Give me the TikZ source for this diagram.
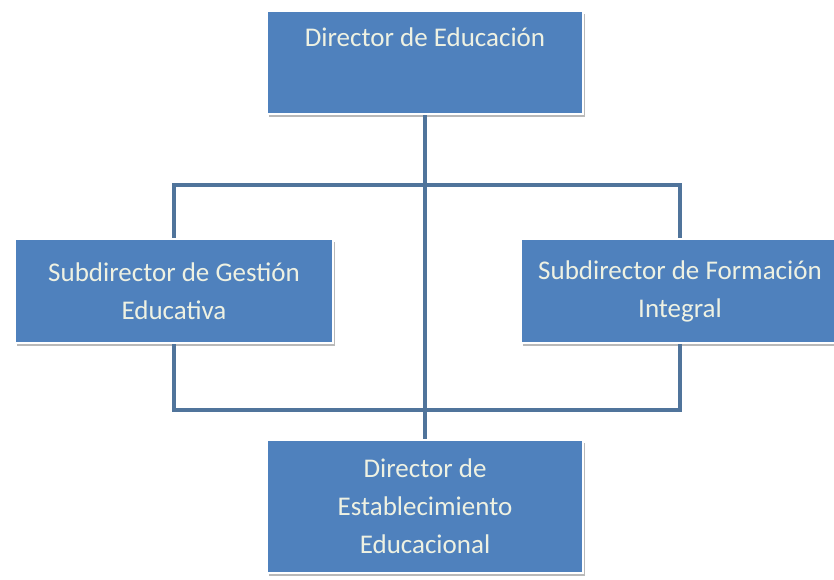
\documentclass[tikz,border=0pt]{standalone}
\usepackage{fontspec}
\setmainfont{Carlito}
\usepackage{tikz}
\usetikzlibrary{shadows, positioning}

\definecolor{boxblue}{RGB}{79,129,189}
\definecolor{linkblue}{RGB}{80,116,155}
\definecolor{boxtext}{RGB}{238,241,226}

\begin{document}
\begin{tikzpicture}[x=1pt, y=1pt,
        unitbox/.style={fill=boxblue, draw=white, line width=2.5pt, text=boxtext,
            align=center, minimum width=318pt, inner sep=0pt,
            font=\fontsize{27}{38}\selectfont,
            drop shadow={shadow xshift=1.5pt, shadow yshift=-3pt, fill=gray!55, opacity=1}},
        link/.style={draw=linkblue, line width=4pt}]
        \useasboundingbox (0,0) rectangle (834,580);
        \node[unitbox, minimum width=316pt, text height=35pt, text depth=68pt, anchor=north] (DirEd) at (425,570) {Director de Educación};
        \node[unitbox, minimum height=104pt] (SubGE) at (174,289) {Subdirector de Gestión\\Educativa};
        \node[unitbox, minimum height=104pt] (SubFI) at (680,289) {Subdirector de Formación\\Integral};
        \node[unitbox, minimum width=316pt, minimum height=133pt] (DirEE) at (425,73.5) {Director de\\Establecimiento\\Educacional};
        \coordinate (busT) at (425,395);
        \coordinate (busB) at (425,170);
        \draw[link] (SubGE.north) |- (busT) -| (SubFI.north);
        \draw[link] (SubGE.south) |- (busB) -| (SubFI.south);
        \draw[link] (DirEd.south) -- (DirEE.north);
    \end{tikzpicture}
\end{document}
